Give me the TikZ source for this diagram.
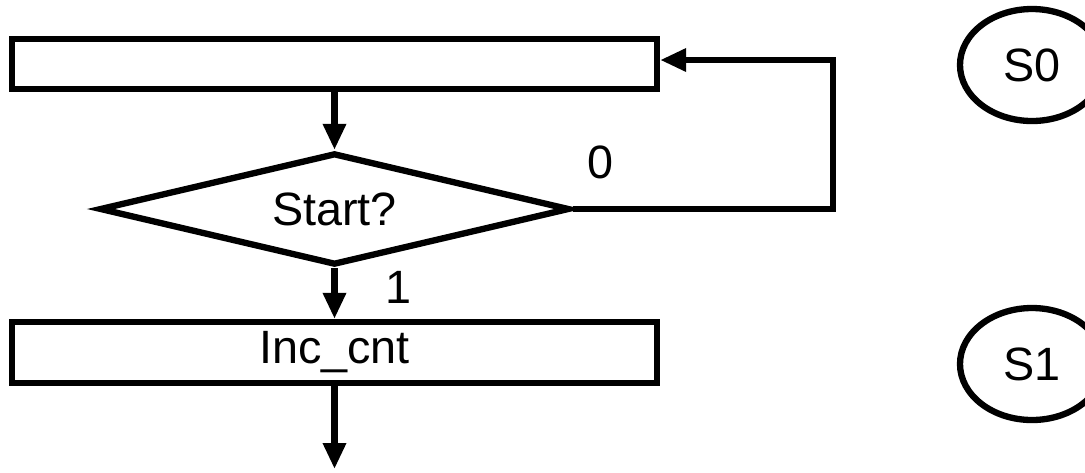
\documentclass[tikz,border=0pt]{standalone}
\usepackage{fontspec}
\setmainfont{Liberation Sans}
\usetikzlibrary{shapes.geometric,arrows.meta}
\tikzset{
  box/.style={draw,line width=1.8pt,minimum width=6.45cm,inner sep=0pt},
  test/.style={draw,diamond,aspect=4.2,line width=1.8pt,minimum width=4.7cm,minimum height=1.12cm,inner sep=0pt},
  state/.style={draw,ellipse,line width=1.8pt,minimum width=1.44cm,minimum height=1.12cm,inner sep=0pt},
  flow/.style={line width=1.8pt,-{Triangle[length=0.26cm,width=0.22cm]}}
}
\begin{document}
\begin{tikzpicture}[font=\fontsize{13.3}{16}\selectfont]
\useasboundingbox (0,0) rectangle (10.85,4.72);
%\draw[help lines] (0,0) grid (11,5);

\node[box,minimum height=0.5cm] (wait) at (3.345,4.08) {};
\node[test] (start) at (3.345,2.63) {Start?};
\node[box,minimum height=0.61cm] (inc) at (3.345,1.195) {Inc\_cnt};
\coordinate (back) at (8.33,4.12);
\coordinate (exit) at (3.345,0.03);

\draw[flow] (wait.south) -- (start.north);
\draw[flow] (start.south) -- (inc.north);
\draw[flow] (inc.south) -- (exit);
\draw[flow] (start.east) -| (back) -- (back -| wait.east);

\node at (6.0,3.1) {0};
\node at (3.98,1.85) {1};

\node[state] (s0) at (10.32,4.07) {S0};
\node[state] (s1) at (10.32,1.08) {S1};
\end{tikzpicture}
\end{document}
